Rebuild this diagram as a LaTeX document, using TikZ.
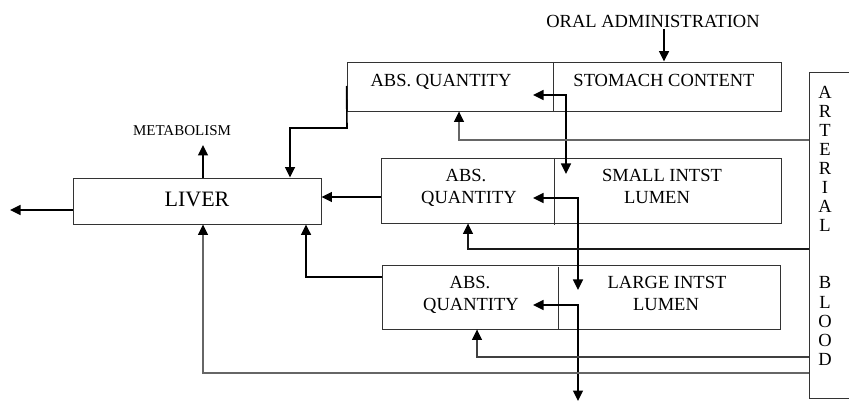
\documentclass[tikz,border=0pt]{standalone}
\usepackage{fontspec}
\setmainfont{Liberation Serif}
\usetikzlibrary{arrows.meta}
\begin{document}
\begin{tikzpicture}[x=1pt,y=-1pt,
  box/.style={draw=black!80, line width=0.9pt, inner sep=0pt},
  lbl/.style={inner sep=0pt, anchor=base, font=\fontsize{18.5}{22}\selectfont},
  tip/.style={-{Triangle[length=10.5pt,width=10pt,color=black]}},
  conn/.style={line width=1.6pt, tip},
  dconn/.style={line width=1.6pt, {Triangle[length=10.5pt,width=10pt]}-{Triangle[length=10.5pt,width=10pt]}},
  blood/.style={draw=black!60, line width=1.2pt, tip},
  divider/.style={draw=black!80, line width=0.9pt}
]
\useasboundingbox (0,0) rectangle (849,403);
\clip (0,0) rectangle (849,403);

% boxes
\node[box, minimum width=434pt, minimum height=49pt] (stom) at (564,86.5) {};
\node[box, minimum width=400pt, minimum height=65pt] (small) at (581,190.5) {};
\node[box, minimum width=398pt, minimum height=64pt] (large) at (581,297) {};
\node[box, minimum width=248pt, minimum height=46pt] (liver) at (197,201) {};
\node[box, minimum width=80pt, minimum height=326pt] (art) at (849,235) {};

% dividers
\draw[divider] (553,62) -- (553,111);
\draw[divider] (554,158) -- (554,225);
\draw[divider] (558,267) -- (558,329);

% labels
\node[lbl] (oral) at (653,28) {ORAL ADMINISTRATION};
\node[lbl] (t1a) at (441,86.8) {ABS. QUANTITY};
\node[lbl] (t1b) at (664,86.8) {STOMACH CONTENT};
\node[lbl] (t2a) at (466,182) {ABS.};
\node[lbl] (t2b) at (469,204) {QUANTITY};
\node[lbl] (t2c) at (662,182) {SMALL INTST};
\node[lbl] (t2d) at (657,204) {LUMEN};
\node[lbl] (t3a) at (470,289) {ABS.};
\node[lbl] (t3b) at (471,311) {QUANTITY};
\node[lbl] (t3c) at (667,289) {LARGE INTST};
\node[lbl] (t3d) at (666,311) {LUMEN};
\node[lbl, font=\fontsize{22}{26}\selectfont] (tl) at (197,206.3) {LIVER};
\node[lbl, font=\fontsize{15}{18}\selectfont] (metab) at (182,136) {METABOLISM};
\foreach \ch/\yy [count=\i] in {A/92,R/111.1,T/130.2,E/149.3,R/168.4,I/187.5,A/206.6,L/225.7,B/282.9,L/302,O/321.1,O/340.2,D/359.3}
  \node[lbl] (ab\i) at (825,\yy+6.1) {\ch};

% connectors
\draw[conn] (oral.south -| 664,0) ++(0,1) -- (stom.north -| 664,0);
\draw[dconn] (533,95) -- (566,95) -- (566,174);
\draw[blood] (art.west |- 0,140) -- (459,140) -- (stom.south -| 459,0);
\draw[conn] (stom.west |- 0,86) -- (347,128) -- (290,128) -- (liver.north -| 290,0);
\draw[conn] (small.west |- 0,197) -- (liver.east |- 0,197);
\draw[dconn] (533,198) -- (578,198) -- (578,290);
\draw[blood, draw=black!90] (art.west |- 0,249) -- (468,249) -- (small.south -| 468,0);
\draw[conn] (large.west |- 0,277) -- (306,277) -- (liver.south -| 306,0);
\draw[dconn] (533,305) -- (578,305) -- (578,401);
\draw[blood, draw=black!75] (art.west |- 0,357) -- (477,357) -- (large.south -| 477,0);
\draw[blood] (art.west |- 0,373) -- (203,373) -- (liver.south -| 203,0);
\draw[conn] (liver.west |- 0,210) -- (10,210);
\draw[conn] (liver.north -| 203,0) -- (203,145);
\end{tikzpicture}
\end{document}
